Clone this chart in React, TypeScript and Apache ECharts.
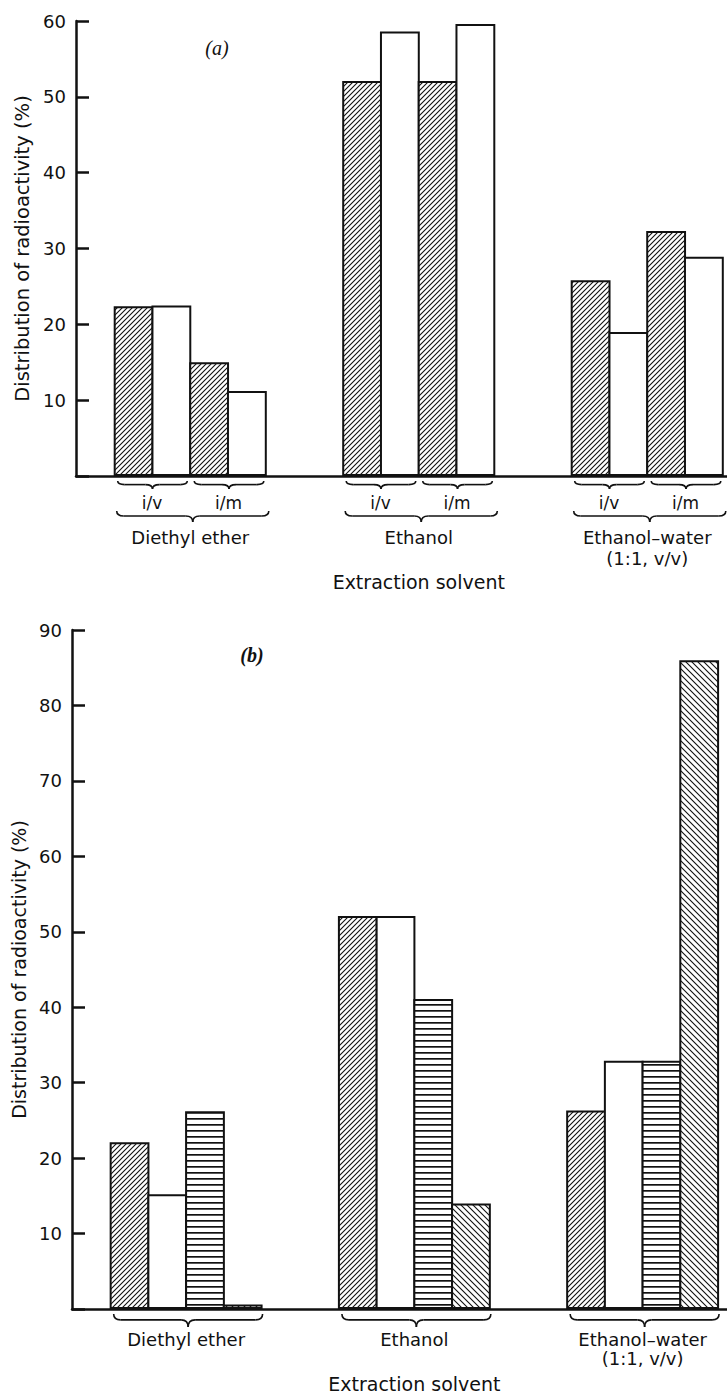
import React, { useEffect, useRef } from 'react';
import * as echarts from 'echarts';

// ---- data ----
const groups = ['Diethyl ether', 'Ethanol', 'Ethanol–water\n(1:1, v/v)'];
const pairLabels = ['i/v', 'i/m'];
const axisTitleY = 'Distribution of radioactivity (%)';
const axisTitleX = 'Extraction solvent';

// chart (a)
const aIvHatched = [22.4, 52.1, 25.8];
const aIvOpen = [22.5, 58.6, 19.0];
const aImHatched = [15.0, 52.1, 32.3];
const aImOpen = [11.2, 59.6, 28.9];
const aYMax = 60;

// chart (b)
const bHatchedUp = [22.1, 52.1, 26.3];
const bOpen = [15.2, 52.1, 32.9];
const bHorizontal = [26.2, 41.1, 32.9];
const bHatchedDown = [0.6, 14.0, 86.0];
const bYMax = 90;

const tickStep = 10;

const FONT = '"DejaVu Sans", "Noto Sans", sans-serif';
const INK = '#111';
const GAP = 0.33;
const BORDER = 2;

function makePattern(kind: 'up' | 'down' | 'horiz') {
  const c = document.createElement('canvas');
  const s = kind === 'horiz' ? 6 : kind === 'up' ? 5 : 6;
  c.width = s;
  c.height = s;
  const ctx = c.getContext('2d')!;
  ctx.fillStyle = '#fff';
  ctx.fillRect(0, 0, s, s);
  if (kind === 'horiz') {
    ctx.fillStyle = INK;
    ctx.fillRect(0, 2, s, 1.7);
  } else {
    ctx.strokeStyle = INK;
    ctx.lineWidth = 1.1;
    ctx.beginPath();
    if (kind === 'up') {
      ctx.moveTo(0, s); ctx.lineTo(s, 0);
      ctx.moveTo(-1, 1); ctx.lineTo(1, -1);
      ctx.moveTo(s - 1, s + 1); ctx.lineTo(s + 1, s - 1);
    } else {
      ctx.moveTo(0, 0); ctx.lineTo(s, s);
      ctx.moveTo(-1, s - 1); ctx.lineTo(1, s + 1);
      ctx.moveTo(s - 1, -1); ctx.lineTo(s + 1, 1);
    }
    ctx.stroke();
  }
  return { image: c, repeat: 'repeat', imageWidth: s, imageHeight: s };
}

function brace(x0: number, x1: number, y: number, h: number, lw = 1.6) {
  const r = Math.min(7, (x1 - x0) / 6);
  const ym = y + h * 0.45;
  const xm = (x0 + x1) / 2;
  const style = { stroke: INK, lineWidth: lw, fill: 'none' };
  return [
    { type: 'bezierCurve', shape: { x1: x0, y1: y, x2: x0 + r, y2: ym, cpx1: x0, cpy1: ym }, style },
    { type: 'line', shape: { x1: x0 + r, y1: ym, x2: xm - r, y2: ym }, style },
    { type: 'bezierCurve', shape: { x1: xm - r, y1: ym, x2: xm, y2: y + h, cpx1: xm, cpy1: ym }, style },
    { type: 'bezierCurve', shape: { x1: xm, y1: y + h, x2: xm + r, y2: ym, cpx1: xm, cpy1: ym }, style },
    { type: 'line', shape: { x1: xm + r, y1: ym, x2: x1 - r, y2: ym }, style },
    { type: 'bezierCurve', shape: { x1: x1 - r, y1: ym, x2: x1, y2: y, cpx1: x1, cpy1: ym }, style },
  ];
}

function text(t: string, x: number, y: number, font: string) {
  return {
    type: 'text',
    style: {
      text: t, x, y, font, fill: INK,
      align: 'center', verticalAlign: 'middle',
      textAlign: 'center', textVerticalAlign: 'middle',
    },
  };
}

export default function App() {
  const ref = useRef<HTMLDivElement>(null);

  useEffect(() => {
    const chart = echarts.init(ref.current!, null, { renderer: 'svg' });
    const up = makePattern('up');
    const down = makePattern('down');
    const horiz = makePattern('horiz');

    const xAxisFor = (i: number) => ({
      type: 'category',
      gridIndex: i,
      data: groups,
      axisLine: { lineStyle: { color: INK, width: 2.5 } },
      axisTick: { show: false },
      axisLabel: {
        interval: 0,
        margin: i === 0 ? 51 : 21,
        color: INK,
        fontSize: 18,
        fontFamily: FONT,
        lineHeight: i === 0 ? 21 : 19,
      },
      name: axisTitleX,
      nameLocation: 'middle',
      nameGap: i === 0 ? 96 : 65,
      nameTextStyle: { color: INK, fontSize: 19, fontFamily: FONT },
    });

    const yAxisFor = (i: number, max: number) => ({
      type: 'value',
      gridIndex: i,
      min: 0,
      max,
      interval: tickStep,
      splitLine: { show: false },
      axisLine: { show: true, lineStyle: { color: INK, width: 2.5 } },
      axisTick: { show: true, inside: true, length: 13, lineStyle: { color: INK, width: 2.5 } },
      axisLabel: {
        color: INK,
        fontSize: 18,
        fontFamily: FONT,
        margin: 10,
        formatter: (v: number) => (v === 0 ? '' : String(v)),
      },
      name: axisTitleY,
      nameLocation: 'middle',
      nameRotate: 90,
      nameGap: 43,
      nameTextStyle: { color: INK, fontSize: i === 0 ? 19.5 : 19, fontFamily: FONT },
    });

    // bars overlap by one border width so neighbours share a single outline
    const bar = (axis: number, data: number[], color: any) => ({
      type: 'bar',
      xAxisIndex: axis,
      yAxisIndex: axis,
      data,
      barGap: '-5.2%',
      barCategoryGap: GAP * 100 + '%',
      itemStyle: { color, borderColor: INK, borderWidth: BORDER },
    });

    const option: any = {
      animation: false,
      backgroundColor: '#fff',
      textStyle: { fontFamily: FONT },
      grid: [
        { left: 76, top: 21, width: 685.5, height: 455, outerBoundsMode: 'none', containLabel: false },
        { left: 72, top: 630, width: 684.75, height: 679, outerBoundsMode: 'none', containLabel: false },
      ],
      xAxis: [xAxisFor(0), xAxisFor(1)],
      yAxis: [yAxisFor(0, aYMax), yAxisFor(1, bYMax)],
      series: [
        { name: 'i/v hatched', ...bar(0, aIvHatched, up) },
        { name: 'i/v open', ...bar(0, aIvOpen, '#fff') },
        { name: 'i/m hatched', ...bar(0, aImHatched, up) },
        { name: 'i/m open', ...bar(0, aImOpen, '#fff') },
        { name: 'b1', ...bar(1, bHatchedUp, up) },
        { name: 'b2', ...bar(1, bOpen, '#fff') },
        { name: 'b3', ...bar(1, bHorizontal, horiz) },
        { name: 'b4', ...bar(1, bHatchedDown, down) },
      ],
    };
    chart.setOption(option);

    const gfx: any[] = [];
    const labelFont = `17px ${FONT}`;
    [0, 1].forEach((ai) => {
      const base = chart.convertToPixel({ yAxisIndex: ai } as any, 0) as number;
      const c0 = chart.convertToPixel({ xAxisIndex: ai } as any, 0) as number;
      const c1 = chart.convertToPixel({ xAxisIndex: ai } as any, 1) as number;
      const band = c1 - c0;
      const half = (band * (1 - GAP)) / 2;
      const barW = half / 2;
      groups.forEach((_, gi) => {
        const cx = chart.convertToPixel({ xAxisIndex: ai } as any, gi) as number;
        const left = cx - half;
        if (ai === 0) {
          pairLabels.forEach((pl, p) => {
            const x0 = left + p * 2 * barW;
            gfx.push(...brace(x0 + 4, x0 + 2 * barW - 3, base + 5, 8));
            gfx.push(text(pl, x0 + barW, base + 27, labelFont));
          });
          gfx.push(...brace(left + 3, cx + half + 2, base + 35, 11));
        } else {
          gfx.push(...brace(left + 4, cx + half, base + 5, 13));
        }
      });
    });
    gfx.push(text('(a)', 217, 48, `italic 20px "Liberation Serif", "DejaVu Serif", serif`));
    gfx.push(text('(b)', 252, 655, `italic bold 20px "Liberation Serif", "DejaVu Serif", serif`));
    chart.setOption({ graphic: gfx.map((g) => ({ ...g, silent: true })) });

    return () => chart.dispose();
  }, []);

  return (
    <div
      style={{
        position: 'absolute', left: 0, top: 0, width: 727, height: 1394,
        overflow: 'hidden', background: '#fff',
      }}
    >
      <div ref={ref} style={{ width: 790, height: 1394 }} />
    </div>
  );
}
